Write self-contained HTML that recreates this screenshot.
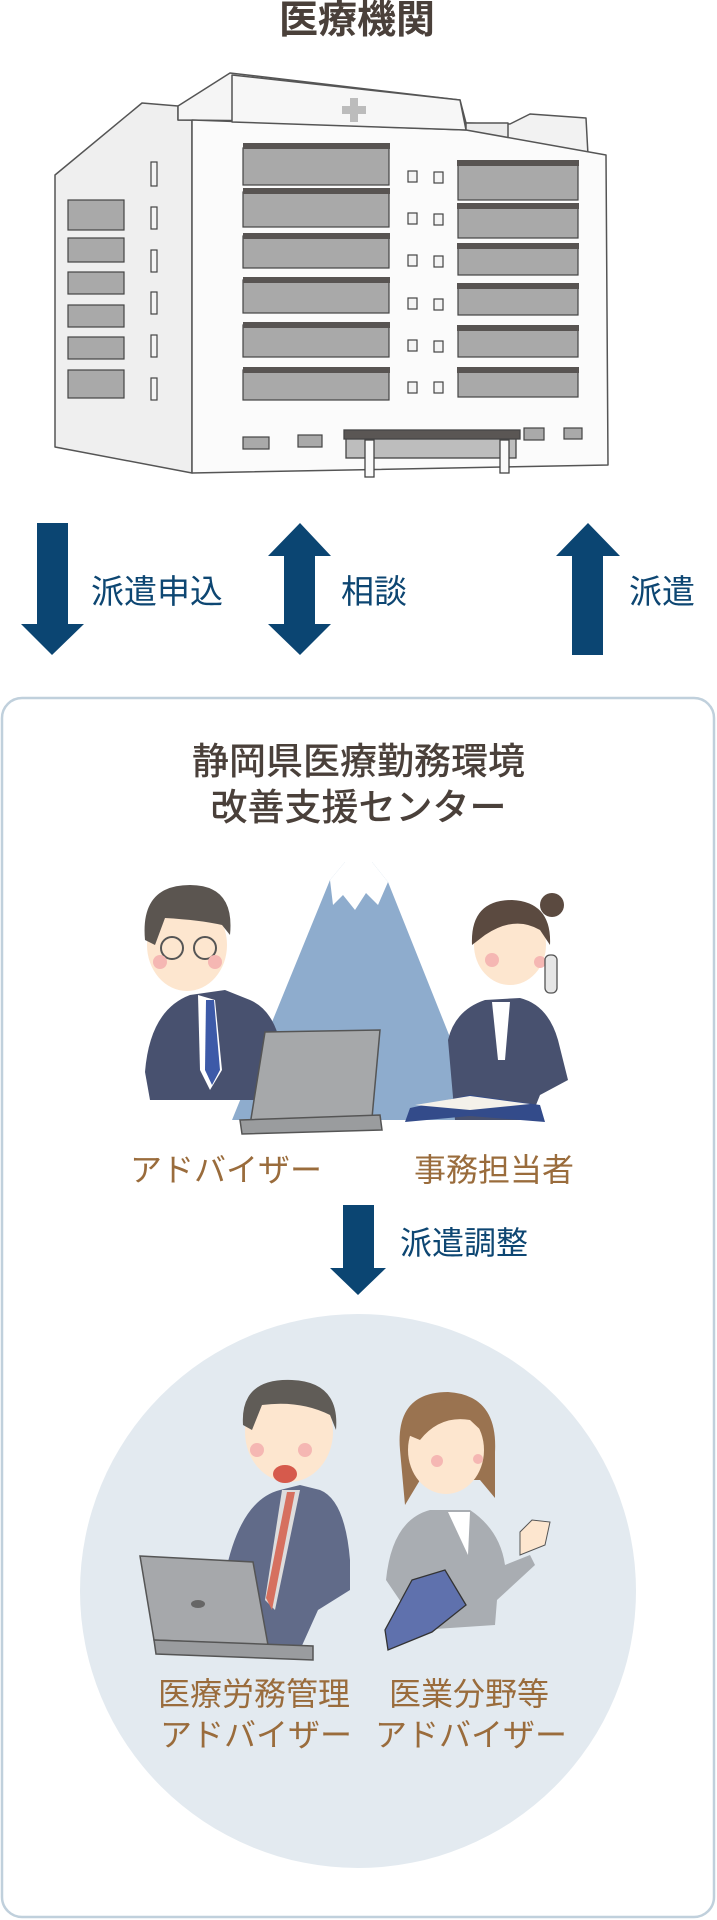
<!DOCTYPE html>
<html><head><meta charset="utf-8">
<style>
html,body{margin:0;padding:0;background:#fff;}
body{width:717px;height:1920px;position:relative;overflow:hidden;font-family:"Liberation Sans","Noto Sans CJK JP",sans-serif;}
.t{position:absolute;white-space:nowrap;line-height:1;}
.blue{color:#0d4672;font-size:33px;}
.brown{color:#9a6c3c;font-size:32px;}
.dark{color:#4a403a;font-weight:700;}
svg{position:absolute;left:0;top:0;}
</style></head><body>
<svg width="717" height="1920" viewBox="0 0 717 1920">
  <!-- center box -->
  <rect x="2" y="698" width="712" height="1219" rx="20" fill="#fff" stroke="#c0d0dc" stroke-width="2.5"/>
  <!-- circle -->
  <ellipse cx="358" cy="1591" rx="278" ry="277" fill="#e3eaf0"/>

  <!-- arrows -->
  <g fill="#0b4572">
    <polygon points="37,523 68,523 68,624 84,624 52,655 21,624 37,624"/>
    <polygon points="300,523 331,556 315,556 315,624 331,624 300,655 268,624 284,624 284,556 268,556"/>
    <polygon points="588,523 620,556 603,556 603,655 572,655 572,556 556,556"/>
    <polygon points="343,1205 374,1205 374,1268 386,1268 358,1295 330,1268 343,1268"/>
  </g>

  <!-- building -->
  <g stroke="#555" stroke-width="1.5" stroke-linejoin="round">
    <polygon points="142,103 178,106 178,120 192,120 192,473 55,447 55,175" fill="#efefef"/>
    <polygon points="178,106 230,73 460,100 466,123 178,120" fill="#f5f5f5"/>
    <polygon points="466,123 510,124 530,114 586,118 588,155 466,140" fill="#f2f2f2"/>
    <rect x="466" y="123" width="42" height="20" fill="#ececec"/>
    <polygon points="192,120 466,130 606,155 608,465 192,473" fill="#fbfbfb"/>
    <polygon points="232,75 460,100 466,130 232,122" fill="#f7f7f7"/>
  </g>
  <g fill="#bcbcbc">
    <rect x="350" y="98" width="8" height="24"/><rect x="342" y="106" width="24" height="8"/>
  </g>
  <g fill="#a9a9a9" stroke="#444" stroke-width="1.2">
    <rect x="243" y="148" width="146" height="37"/><rect x="243" y="192" width="146" height="35"/>
    <rect x="243" y="236" width="146" height="32"/><rect x="243" y="280" width="146" height="33"/>
    <rect x="243" y="325" width="146" height="32"/><rect x="243" y="370" width="146" height="30"/>
    <rect x="458" y="165" width="120" height="35"/><rect x="458" y="207" width="120" height="31"/>
    <rect x="458" y="247" width="120" height="28"/><rect x="458" y="287" width="120" height="28"/>
    <rect x="458" y="329" width="120" height="28"/><rect x="458" y="370" width="120" height="27"/>
    <rect x="68" y="200" width="56" height="30"/><rect x="68" y="238" width="56" height="24"/>
    <rect x="68" y="272" width="56" height="22"/><rect x="68" y="305" width="56" height="22"/>
    <rect x="68" y="337" width="56" height="22"/><rect x="68" y="370" width="56" height="28"/>
    <rect x="243" y="437" width="26" height="12"/><rect x="298" y="435" width="24" height="12"/>
    <rect x="524" y="428" width="20" height="12"/><rect x="564" y="428" width="18" height="11"/>
  </g>
  <g fill="#585452">
    <rect x="243" y="143" width="147" height="6"/><rect x="243" y="188" width="147" height="6"/>
    <rect x="243" y="233" width="147" height="6"/><rect x="243" y="277" width="147" height="6"/>
    <rect x="243" y="322" width="147" height="6"/><rect x="243" y="367" width="147" height="6"/>
    <rect x="457" y="160" width="122" height="6"/><rect x="457" y="203" width="122" height="6"/>
    <rect x="457" y="243" width="122" height="6"/><rect x="457" y="283" width="122" height="6"/>
    <rect x="457" y="325" width="122" height="6"/><rect x="457" y="367" width="122" height="6"/>
  </g>
  <g fill="#f4f4f4" stroke="#444" stroke-width="1.2">
    <rect x="408" y="171" width="9" height="11"/><rect x="434" y="172" width="9" height="11"/>
    <rect x="408" y="213" width="9" height="11"/><rect x="434" y="214" width="9" height="11"/>
    <rect x="408" y="255" width="9" height="11"/><rect x="434" y="256" width="9" height="11"/>
    <rect x="408" y="298" width="9" height="11"/><rect x="434" y="299" width="9" height="11"/>
    <rect x="408" y="340" width="9" height="11"/><rect x="434" y="341" width="9" height="11"/>
    <rect x="408" y="382" width="9" height="11"/><rect x="434" y="382" width="9" height="11"/>
    <rect x="151" y="162" width="6" height="24"/><rect x="151" y="207" width="6" height="22"/>
    <rect x="151" y="250" width="6" height="22"/><rect x="151" y="292" width="6" height="22"/>
    <rect x="151" y="335" width="6" height="22"/><rect x="151" y="378" width="6" height="22"/>
  </g>
  <g stroke="#444" stroke-width="1.3">
    <rect x="346" y="438" width="170" height="20" fill="#bdbdbd"/>
    <rect x="344" y="430" width="176" height="9" fill="#5a5654"/>
    <rect x="365" y="440" width="9" height="37" fill="#fafafa"/>
    <rect x="500" y="440" width="9" height="33" fill="#fafafa"/>
  </g>

  <!-- Mt Fuji -->
  <polygon points="232,1120 330,880 345,862 372,862 388,882 483,1120" fill="#8eaccd"/>
  <polygon points="330,880 345,862 372,862 388,882 378,905 366,893 355,910 343,895 333,905" fill="#fff"/>

  <!-- top man with laptop -->
  <g>
    <path d="M145,1072 Q150,1010 190,995 L225,990 L250,1000 Q278,1012 283,1060 L285,1100 L150,1100 Z" fill="#48516f"/>
    <polygon points="198,995 215,1000 222,1070 210,1090 200,1070" fill="#fff"/>
    <polygon points="206,1000 214,1000 220,1070 212,1085 205,1070" fill="#3d5aa8"/>
    <ellipse cx="187" cy="945" rx="40" ry="46" fill="#fde6cf"/>
    <path d="M145,940 Q140,885 190,885 Q235,885 230,935 L222,925 Q200,920 165,918 L155,945 Z" fill="#5b5550"/>
    <circle cx="172" cy="948" r="11" fill="none" stroke="#555" stroke-width="2"/>
    <circle cx="205" cy="948" r="11" fill="none" stroke="#555" stroke-width="2"/>
    <circle cx="160" cy="962" r="7" fill="#f5b7b3"/><circle cx="215" cy="962" r="7" fill="#f5b7b3"/>
    <polygon points="265,1032 380,1030 372,1118 250,1125" fill="#a6a8aa" stroke="#555" stroke-width="1.5"/>
    <polygon points="240,1120 380,1115 382,1130 242,1134" fill="#9a9c9e" stroke="#555" stroke-width="1.5"/>
  </g>
  <!-- top woman with phone -->
  <g>
    <path d="M455,1120 L448,1040 Q455,1010 485,1000 L520,998 Q548,1005 558,1040 L568,1080 L540,1095 L530,1120 Z" fill="#48516f"/>
    <polygon points="492,1002 510,1002 505,1060 498,1060" fill="#fff"/>
    <ellipse cx="510" cy="945" rx="36" ry="40" fill="#fde6cf"/>
    <path d="M472,945 Q470,900 512,900 Q552,902 550,945 L540,930 Q515,915 485,935 Z" fill="#5b4a40"/>
    <circle cx="552" cy="905" r="12" fill="#5b4a40"/>
    <circle cx="492" cy="960" r="7" fill="#f5b7b3"/><circle cx="540" cy="962" r="6" fill="#f5b7b3"/>
    <rect x="545" y="955" width="12" height="38" rx="5" fill="#e6e6e6" stroke="#555" stroke-width="1.3"/>
    <path d="M410,1108 L470,1095 L540,1105 L545,1122 L470,1116 L405,1122 Z" fill="#334b8a"/>
    <path d="M415,1105 L470,1096 L530,1104 L470,1110 Z" fill="#f4f1ea"/>
  </g>

  <!-- bottom man with laptop -->
  <g>
    <path d="M225,1575 Q240,1500 280,1490 L300,1485 L320,1490 Q345,1500 350,1560 L350,1590 L318,1610 L300,1650 L260,1650 Z" fill="#616b89"/>
    <polygon points="282,1490 300,1490 275,1610 265,1600" fill="#ddd"/>
    <polygon points="287,1492 295,1492 272,1610 266,1598" fill="#d6705f"/>
    <ellipse cx="289" cy="1432" rx="44" ry="50" fill="#fde6cf"/>
    <path d="M243,1425 Q240,1378 292,1380 Q340,1382 336,1430 L330,1415 Q300,1400 262,1405 L252,1430 Z" fill="#605c57"/>
    <circle cx="257" cy="1450" r="7" fill="#f5b7b3"/><circle cx="305" cy="1450" r="7" fill="#f5b7b3"/>
    <ellipse cx="285" cy="1474" rx="12" ry="9" fill="#d65a4c"/>
    <polygon points="140,1556 253,1562 268,1645 154,1640" fill="#a6a8ab" stroke="#555" stroke-width="1.5"/>
    <polygon points="154,1640 313,1646 313,1660 156,1654" fill="#9a9c9f" stroke="#555" stroke-width="1.5"/>
    <ellipse cx="198" cy="1604" rx="7" ry="4" fill="#666"/>
  </g>
  <!-- bottom woman -->
  <g>
    <path d="M386,1580 Q392,1520 430,1510 L470,1510 Q500,1530 505,1565 L530,1555 L535,1565 L497,1600 L495,1625 L420,1630 Z" fill="#a9adb2"/>
    <polygon points="448,1512 470,1512 468,1555" fill="#fff"/>
    <path d="M400,1450 Q395,1392 448,1392 Q498,1395 495,1452 L495,1498 L480,1480 L420,1480 L405,1505 Z" fill="#9a7350"/>
    <ellipse cx="446" cy="1450" rx="38" ry="44" fill="#fde6cf"/>
    <path d="M408,1435 Q415,1400 450,1400 Q485,1402 486,1435 L470,1420 Q440,1415 420,1440 Z" fill="#9a7350"/>
    <circle cx="437" cy="1461" r="6" fill="#f5b7b3"/><circle cx="478" cy="1459" r="5" fill="#f5b7b3"/>
    <path d="M520,1555 L520,1532 L532,1520 L550,1522 L545,1545 Z" fill="#fde6cf" stroke="#555" stroke-width="1"/>
    <polygon points="412,1580 445,1570 466,1605 432,1632 388,1650 385,1630" fill="#5f71ad" stroke="#333" stroke-width="1.3"/>
  </g>
</svg>

<div class="t dark" style="left:279px;top:1px;font-size:39px;">医療機関</div>

<div class="t blue" style="left:91px;top:575px;">派遣申込</div>
<div class="t blue" style="left:341px;top:575px;">相談</div>
<div class="t blue" style="left:629px;top:575px;">派遣</div>

<div class="t dark" style="left:0;width:717px;text-align:center;top:743px;font-size:37px;font-weight:500;">静岡県医療勤務環境</div>
<div class="t dark" style="left:0;width:717px;text-align:center;top:789px;font-size:37px;font-weight:500;">改善支援センター</div>

<div class="t brown" style="left:130px;top:1154px;">アドバイザー</div>
<div class="t brown" style="left:414px;top:1154px;">事務担当者</div>

<div class="t blue" style="left:400px;top:1227px;font-size:32px;">派遣調整</div>

<div class="t brown" style="left:158px;top:1678px;">医療労務管理</div>
<div class="t brown" style="left:160px;top:1719px;">アドバイザー</div>
<div class="t brown" style="left:389px;top:1678px;">医業分野等</div>
<div class="t brown" style="left:375px;top:1719px;">アドバイザー</div>
</body></html>
